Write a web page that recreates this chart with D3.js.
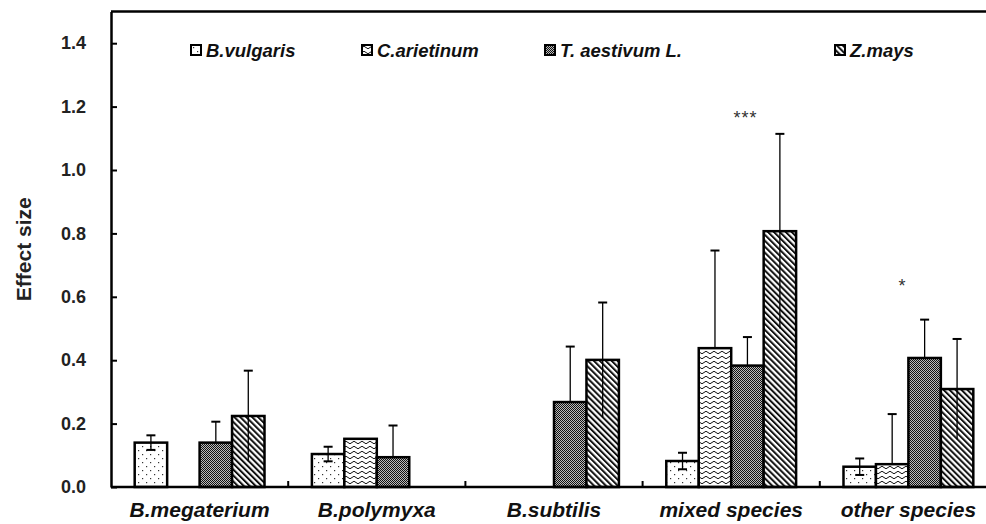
<!DOCTYPE html>
<html>
<head>
<meta charset="utf-8">
<script src="https://cdnjs.cloudflare.com/ajax/libs/d3/7.8.5/d3.min.js"></script>
<style>
  body { margin: 0; background: #fff; }
  svg { display: block; }
</style>
</head>
<body>
<div></div>
<script>
// categories and series
var categories = ["B.megaterium", "B.polymyxa", "B.subtilis", "mixed species", "other species"];
var series = ["B.vulgaris", "C.arietinum", "T. aestivum L.", "Z.mays"];

// effect sizes (null = no bar)
var vulgaris  = [0.140, 0.104, null,  0.082, 0.064];
var arietinum = [null,  0.152, null,  0.438, 0.072];
var aestivum  = [0.140, 0.094, 0.268, 0.383, 0.407];
var mays      = [0.224, null,  0.401, 0.807, 0.309];

// error bars
var vulgarisErr  = [0.023, 0.023, null,  0.026, 0.026];
var arietinumErr = [null,  0,     null,  0.308, 0.158];
var aestivumErr  = [0.066, 0.100, 0.175, 0.090, 0.121];
var maysErr      = [0.143, null,  0.181, 0.307, 0.158];

var yTicks = [0, 0.2, 0.4, 0.6, 0.8, 1.0, 1.2, 1.4];

// significance marks
var marks = [
  {cat: "mixed species", value: 1.15, text: "***"},
  {cat: "other species", value: 0.62, text: "*"}
];

var values = [vulgaris, arietinum, aestivum, mays];
var errors = [vulgarisErr, arietinumErr, aestivumErr, maysErr];
var patterns = ["dots", "zigzag", "gray", "hatch"];
var showLower = [true, false, false, true];
var lowerCap = [true, false, false, false];
var legendX = [191, 362, 545, 835];

var W = 986, H = 524;
var margin = {top: 11.5, left: 111, bottom: 37};
var font = "Arial, 'Liberation Sans', sans-serif";

var svg = d3.select("div").append("svg")
    .attr("width", W)
    .attr("height", H);

// fill patterns
var defs = svg.append("defs");

var p = defs.append("pattern").attr("id", "dots")
    .attr("patternUnits", "userSpaceOnUse").attr("width", 8).attr("height", 8);
p.append("rect").attr("width", 8).attr("height", 8).attr("fill", "#fff");
p.append("rect").attr("x", 2).attr("y", 2).attr("width", 1.2).attr("height", 1.2).attr("fill", "#333");
p.append("rect").attr("x", 6).attr("y", 6).attr("width", 1.2).attr("height", 1.2).attr("fill", "#333");

p = defs.append("pattern").attr("id", "zigzag")
    .attr("patternUnits", "userSpaceOnUse").attr("width", 8).attr("height", 5);
p.append("rect").attr("width", 8).attr("height", 5).attr("fill", "#fff");
p.append("path").attr("d", "M0,2.5 Q2,0 4,2.5 T8,2.5")
    .attr("fill", "none").attr("stroke", "#111").attr("stroke-width", 1);

p = defs.append("pattern").attr("id", "gray")
    .attr("patternUnits", "userSpaceOnUse").attr("width", 2).attr("height", 2);
p.append("rect").attr("width", 2).attr("height", 2).attr("fill", "#bbb");
p.append("rect").attr("width", 1).attr("height", 1).attr("fill", "#111");
p.append("rect").attr("x", 1).attr("y", 1).attr("width", 1).attr("height", 1).attr("fill", "#111");

p = defs.append("pattern").attr("id", "hatch")
    .attr("patternUnits", "userSpaceOnUse").attr("width", 4.2).attr("height", 4.2)
    .attr("patternTransform", "rotate(-45)");
p.append("rect").attr("width", 4.2).attr("height", 4.2).attr("fill", "#fff");
p.append("rect").attr("width", 2).attr("height", 4.2).attr("fill", "#111");

// scales
var x0 = d3.scaleBand().domain(categories).range([margin.left, 997]);
var x1 = d3.scaleBand().domain(series).range([0, x0.bandwidth()]).paddingOuter(0.73);
var y = d3.scaleLinear().domain([0, 1.5]).range([H - margin.bottom, margin.top]);

// bars
var bars = [];
series.forEach(function(s, i) {
  categories.forEach(function(c, j) {
    if (values[i][j] != null) bars.push({s: s, i: i, c: c, v: values[i][j], e: errors[i][j]});
  });
});

svg.selectAll(".bar")
    .data(bars)
    .enter().append("rect")
    .attr("class", "bar")
    .attr("x", function(d) { return x0(d.c) + x1(d.s); })
    .attr("y", function(d) { return y(d.v); })
    .attr("width", x1.bandwidth())
    .attr("height", function(d) { return y(0) - y(d.v); })
    .attr("fill", function(d) { return "url(#" + patterns[d.i] + ")"; })
    .attr("stroke", "#000")
    .attr("stroke-width", 2.5);

// error bars
var eb = svg.selectAll(".err")
    .data(bars.filter(function(d) { return d.e; }))
    .enter().append("g")
    .attr("class", "err")
    .attr("transform", function(d) { return "translate(" + (x0(d.c) + x1(d.s) + x1.bandwidth() / 2) + ",0)"; })
    .attr("stroke", "#000")
    .attr("stroke-width", 1.3);

eb.append("line")
    .attr("y1", function(d) { return showLower[d.i] ? y(d.v - d.e) : y(d.v); })
    .attr("y2", function(d) { return y(d.v + d.e); });
eb.append("line")
    .attr("x1", -4.5).attr("x2", 4.5)
    .attr("stroke-width", 2)
    .attr("y1", function(d) { return y(d.v + d.e); })
    .attr("y2", function(d) { return y(d.v + d.e); });
eb.filter(function(d) { return lowerCap[d.i]; }).append("line")
    .attr("x1", -4.5).attr("x2", 4.5)
    .attr("stroke-width", 2)
    .attr("y1", function(d) { return y(d.v - d.e); })
    .attr("y2", function(d) { return y(d.v - d.e); });

// Y axis
var yAxis = svg.append("g")
    .attr("transform", "translate(" + margin.left + ",0)")
    .call(d3.axisLeft(y).tickValues(yTicks).tickFormat(d3.format(".1f"))
        .tickSize(-6).tickSizeOuter(0).tickPadding(25));
yAxis.select(".domain").attr("stroke-width", 2.5);
yAxis.selectAll(".tick line").attr("stroke-width", 2);
yAxis.selectAll("text")
    .style("font-family", font)
    .style("font-size", "18px")
    .style("font-weight", 700)
    .attr("fill", "#222");

// X axis
var xAxis = svg.append("g")
    .attr("transform", "translate(0," + y(0) + ")")
    .call(d3.axisBottom(x0).tickSize(0).tickPadding(15));
xAxis.select(".domain").attr("d", "M" + margin.left + ",0H" + W).attr("stroke-width", 2.5);
xAxis.selectAll("text")
    .style("font-family", font)
    .style("font-size", "21px")
    .style("font-weight", 700)
    .style("font-style", "italic")
    .attr("fill", "#111");

// category separators
svg.selectAll(".sep")
    .data(categories.slice(1))
    .enter().append("line")
    .attr("class", "sep")
    .attr("x1", function(d) { return x0(d); })
    .attr("x2", function(d) { return x0(d); })
    .attr("y1", y(0))
    .attr("y2", y(0) - 6)
    .attr("stroke", "#000")
    .attr("stroke-width", 2);

// top frame
svg.append("line")
    .attr("x1", margin.left).attr("x2", W)
    .attr("y1", y(1.5)).attr("y2", y(1.5))
    .attr("stroke", "#000")
    .attr("stroke-width", 2.5);

// Y label
svg.append("text")
    .text("Effect size")
    .attr("transform", "translate(31," + ((y(0) + y(1.5)) / 2) + ") rotate(-90)")
    .style("text-anchor", "middle")
    .style("font-family", font)
    .style("font-size", "21px")
    .style("font-weight", 700)
    .attr("fill", "#222");

// significance marks
svg.selectAll(".mark")
    .data(marks)
    .enter().append("text")
    .attr("class", "mark")
    .text(function(d) { return d.text; })
    .attr("x", function(d, i) { return i == 0 ? x0(d.cat) + x1(series[2]) + x1.bandwidth() / 2 - 2 : x0(d.cat) + x0.bandwidth() / 2 - 6; })
    .attr("y", function(d) { return y(d.value) + 2; })
    .style("text-anchor", "middle")
    .style("font-family", font)
    .style("font-size", "18px")
    .style("letter-spacing", "1px")
    .attr("fill", "#333");

// legend
var legend = svg.append("g").attr("class", "legend");
var li = legend.selectAll("g")
    .data(series)
    .enter().append("g")
    .attr("transform", function(d, i) { return "translate(" + legendX[i] + ",45)"; });
li.append("rect")
    .attr("width", 10).attr("height", 10)
    .attr("fill", function(d, i) { return "url(#" + patterns[i] + ")"; })
    .attr("stroke", "#000")
    .attr("stroke-width", 2);
li.append("text")
    .text(function(d) { return d; })
    .attr("x", 15)
    .attr("y", 12)
    .style("font-family", font)
    .style("font-size", "18.5px")
    .style("font-weight", 700)
    .style("font-style", "italic")
    .attr("fill", "#111");
</script>
</body>
</html>
